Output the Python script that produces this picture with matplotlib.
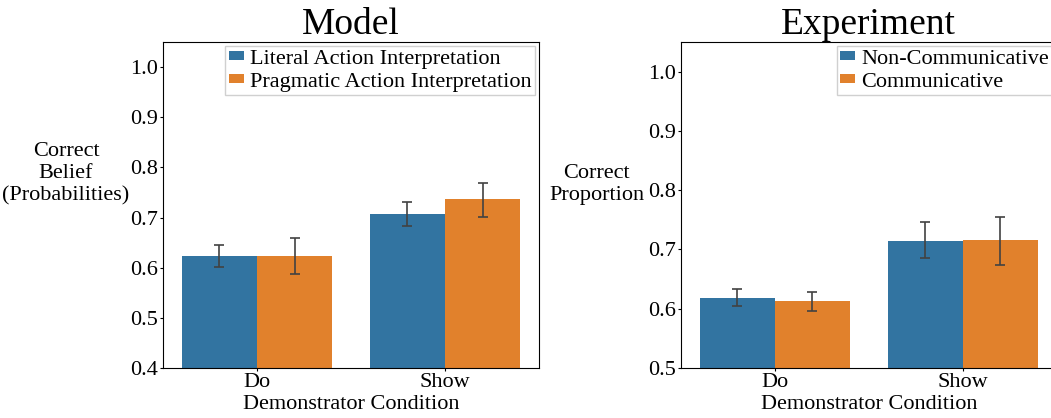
import numpy as np
import matplotlib
matplotlib.use("Agg")
import matplotlib.pyplot as plt

plt.rcParams['font.family'] = ['Liberation Serif', 'DejaVu Serif']

conditions = ["Do", "Show"]

model_labels = ["Literal Action Interpretation", "Pragmatic Action Interpretation"]
model_means = [[0.624, 0.708], [0.624, 0.736]]
model_lo = [[0.601, 0.683], [0.587, 0.702]]
model_hi = [[0.646, 0.731], [0.660, 0.769]]

exp_labels = ["Non-Communicative", "Communicative"]
exp_means = [[0.618, 0.7145], [0.613, 0.716]]
exp_lo = [[0.604, 0.685], [0.597, 0.673]]
exp_hi = [[0.633, 0.746], [0.629, 0.755]]

colors = ["#3274a1", "#e1812c"]


def draw(ax, labels, means, lo, hi, ylim, yticks, title, ylabel, label_x):
    x = np.arange(len(conditions))
    w = 0.4
    for i, lab in enumerate(labels):
        pos = x + (i - 0.5) * w
        m = np.array(means[i])
        err = np.array([m - np.array(lo[i]), np.array(hi[i]) - m])
        ax.bar(pos, m, width=w, color=colors[i], label=lab, zorder=2)
        ax.errorbar(pos, m, yerr=err, fmt="none", ecolor="#424242",
                    elinewidth=1.2, capsize=3.6, capthick=1.2, zorder=3)
    ax.set_xlim(-0.5, 1.5)
    ax.set_ylim(*ylim)
    ax.set_yticks(yticks)
    ax.set_xticks(x)
    ax.set_xticklabels(conditions)
    ax.tick_params(labelsize=16, length=2.5, pad=1.2)
    ax.set_title(title, fontsize=27, pad=6)
    ax.set_xlabel("Demonstrator Condition", fontsize=16, labelpad=2)
    ax.set_ylabel(ylabel, fontsize=16, rotation=0, ha="center", va="bottom",
                  multialignment="center")
    ax.yaxis.set_label_coords(label_x, 0.5)
    ax.legend(loc="upper right", fontsize=16, handlelength=0.68,
              handleheight=0.26, handletextpad=0.26, borderpad=0.15,
              labelspacing=0.18, borderaxespad=0.2, fancybox=False,
              edgecolor="#d0d0d0", framealpha=1)


fig = plt.figure(figsize=(10.51, 4.18), dpi=100)
ax1 = fig.add_axes([0.1551, 0.1196, 0.3578, 0.78])
ax2 = fig.add_axes([0.6477, 0.1196, 0.3578, 0.78])

draw(ax1, model_labels, model_means, model_lo, model_hi, (0.4, 1.05),
     [0.4, 0.5, 0.6, 0.7, 0.8, 0.9, 1.0], "Model",
     "Correct\nBelief\n(Probabilities)", -0.258)
draw(ax2, exp_labels, exp_means, exp_lo, exp_hi, (0.5, 1.05),
     [0.5, 0.6, 0.7, 0.8, 0.9, 1.0], "Experiment",
     "Correct\nProportion", -0.223)

fig.savefig("out.png", dpi=100)
